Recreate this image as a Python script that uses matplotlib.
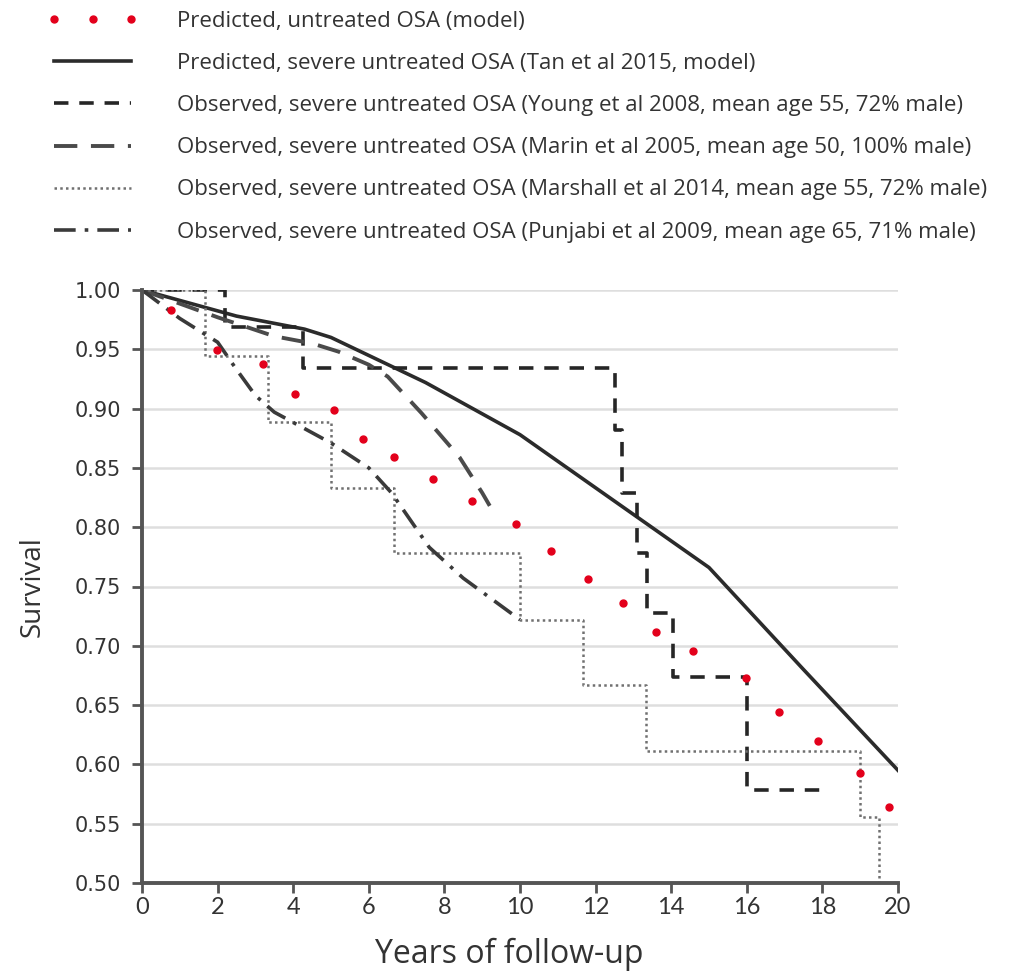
import numpy as np
import matplotlib.pyplot as plt

# red dots: predicted, untreated OSA (model)
pred_years = [0.77, 1.98, 3.2, 4.05, 5.08, 5.85, 6.67, 7.7, 8.73, 9.9,
              10.82, 11.8, 12.72, 13.6, 14.58, 15.98, 16.85, 17.88, 19.0, 19.77]
pred_surv = [0.983, 0.949, 0.938, 0.912, 0.899, 0.874, 0.859, 0.841, 0.822, 0.803,
             0.780, 0.756, 0.736, 0.712, 0.696, 0.673, 0.644, 0.620, 0.593, 0.564]

# Tan et al 2015 model
tan_years = [0, 2.5, 4.3, 5, 7.5, 10, 12.5, 15, 17.5, 20]
tan_surv = [1.0, 0.978, 0.967, 0.960, 0.922, 0.878, 0.822, 0.766, 0.680, 0.595]

# Young et al 2008 (step)
young_years = [0, 2.2, 4.25, 12.5, 12.7, 13.1, 13.35, 14.05, 16.0, 18.0]
young_surv = [1.0, 0.969, 0.934, 0.882, 0.829, 0.778, 0.728, 0.674, 0.578, 0.578]

# Marin et al 2005
marin_years = [0, 2, 3.5, 4.5, 5.2, 6.0, 6.5, 7.4, 8.4, 9.0, 9.2]
marin_surv = [1.0, 0.977, 0.961, 0.955, 0.948, 0.937, 0.927, 0.896, 0.859, 0.829, 0.818]

# Marshall et al 2014 (step)
marsh_years = [0, 1.67, 3.33, 5.0, 6.67, 10.0, 11.67, 13.33, 19.0, 19.5, 19.5]
marsh_surv = [1.0, 0.944, 0.889, 0.833, 0.778, 0.722, 0.667, 0.611, 0.556, 0.50, 0.50]

# Punjabi et al 2009
punj_years = [0, 1, 2, 2.5, 3, 3.5, 5, 6, 6.6, 7.6, 8.5, 10]
punj_surv = [1.0, 0.976, 0.956, 0.933, 0.911, 0.897, 0.871, 0.850, 0.829, 0.783, 0.757, 0.722]

labels = [
    "Predicted, untreated OSA (model)",
    "Predicted, severe untreated OSA (Tan et al 2015, model)",
    "Observed, severe untreated OSA (Young et al 2008, mean age 55, 72% male)",
    "Observed, severe untreated OSA (Marin et al 2005, mean age 50, 100% male)",
    "Observed, severe untreated OSA (Marshall et al 2014, mean age 55, 72% male)",
    "Observed, severe untreated OSA (Punjabi et al 2009, mean age 65, 71% male)",
]

fig = plt.figure(figsize=(10.1, 9.74), dpi=100)
ax = fig.add_axes([142 / 1010, 1 - 883 / 974, 756 / 1010, 593 / 974])

ln_pred, = ax.plot(pred_years, pred_surv, linestyle='none', marker='o',
                   markersize=5, color='#e3001b', zorder=5)
ln_tan, = ax.plot(tan_years, tan_surv, color='#2b2b2b', lw=2.6)
ln_young, = ax.step(young_years, young_surv, where='post', color='#262626',
                    lw=2.6, dashes=(4, 3))
ln_marin, = ax.plot(marin_years, marin_surv, color='#4a4a4a', lw=2.8,
                    dashes=(6, 3.5))
ln_marsh, = ax.step(marsh_years, marsh_surv, where='post', color='#707070',
                    lw=1.8, dashes=(1, 1.3))
ln_punj, = ax.plot(punj_years, punj_surv, color='#3a3a3a', lw=2.6,
                   dashes=(6, 2.5, 1, 2.5))

ax.set_xlim(0, 20)
ax.set_ylim(0.5, 1.0)
ax.set_xticks(np.arange(0, 21, 2))
ax.set_yticks(np.arange(0.5, 1.001, 0.05))
ax.set_yticklabels(['%.2f' % v for v in np.arange(0.5, 1.001, 0.05)],
                   fontsize=15, family='DejaVu Sans', color='#333333')
ax.set_xticklabels([str(v) for v in range(0, 21, 2)], fontsize=17,
                   family='Lato', color='#333333')
ax.yaxis.grid(True, color='#dedede', lw=1.8)
ax.set_axisbelow(True)
for s in ['top', 'right']:
    ax.spines[s].set_visible(False)
for s in ['left', 'bottom']:
    ax.spines[s].set_color('#555555')
    ax.spines[s].set_linewidth(2.8)
ax.tick_params(axis='both', direction='out', length=7, width=2,
               color='#555555')
ax.tick_params(axis='y', pad=8)
ax.tick_params(axis='x', pad=3)

ax.set_ylabel('Survival', fontsize=20, family='Open Sans', color='#333333',
              labelpad=20)
ax.set_xlabel('Years of follow-up', fontsize=23, family='Open Sans',
              color='#333333', labelpad=14)
ax.xaxis.label.set_x(0.486)

handles = [ln_pred, ln_tan, ln_young, ln_marin, ln_marsh, ln_punj]
fig.legend(handles, labels, loc='upper left',
           bbox_to_anchor=(47 / 1010, 1 - 11 / 974), frameon=False,
           numpoints=3, handlelength=4.1, handletextpad=1.75,
           labelspacing=0.95, borderpad=0, borderaxespad=0,
           prop={'family': 'Open Sans', 'size': 16}, labelcolor='#333333')

fig.savefig('out.png', dpi=100)
